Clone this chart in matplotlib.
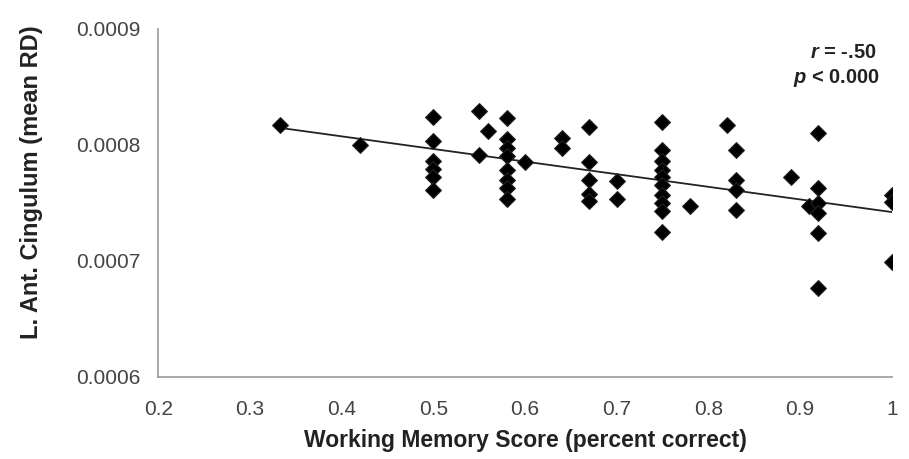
import numpy as np
import matplotlib
matplotlib.use("Agg")
import matplotlib.pyplot as plt

plt.rcParams['font.family'] = ['Liberation Sans', 'DejaVu Sans']
plt.rcParams['mathtext.fontset'] = 'custom'
plt.rcParams['mathtext.it'] = 'Liberation Sans:italic:bold'
plt.rcParams['mathtext.rm'] = 'Liberation Sans:bold'

# working memory score (x) and mean RD (y)
wm_score = [0.333, 0.42,
            0.5, 0.5, 0.5, 0.5, 0.5, 0.5,
            0.55, 0.55, 0.56,
            0.58, 0.58, 0.58, 0.58, 0.58, 0.58, 0.58, 0.58,
            0.6, 0.64, 0.64,
            0.67, 0.67, 0.67, 0.67, 0.67,
            0.7, 0.7,
            0.75, 0.75, 0.75, 0.75, 0.75, 0.75, 0.75, 0.75, 0.75, 0.75,
            0.78, 0.82,
            0.83, 0.83, 0.83, 0.83,
            0.89, 0.91,
            0.92, 0.92, 0.92, 0.92, 0.92, 0.92,
            1.0, 1.0, 1.0]
mean_rd = [0.000817, 0.000800,
           0.000824, 0.000803, 0.000786, 0.000779, 0.000772, 0.000761,
           0.000829, 0.000791, 0.000812,
           0.000823, 0.000805, 0.000797, 0.000790, 0.000778, 0.000770, 0.000763, 0.000753,
           0.000785, 0.000806, 0.000797,
           0.000815, 0.000785, 0.000770, 0.000758, 0.000752,
           0.000769, 0.000753,
           0.000820, 0.000796, 0.000786, 0.000778, 0.000772, 0.000765, 0.000757, 0.000750, 0.000743, 0.000725,
           0.000747, 0.000817,
           0.000796, 0.000770, 0.000761, 0.000744,
           0.000772, 0.000747,
           0.000810, 0.000763, 0.000750, 0.000741, 0.000724, 0.000677,
           0.000757, 0.000751, 0.000699]

x_ticks = [0.2, 0.3, 0.4, 0.5, 0.6, 0.7, 0.8, 0.9, 1.0]
x_labels = ['0.2', '0.3', '0.4', '0.5', '0.6', '0.7', '0.8', '0.9', '1']
y_ticks = [0.0006, 0.0007, 0.0008, 0.0009]
y_labels = ['0.0006', '0.0007', '0.0008', '0.0009']

x = np.array(wm_score)
y = np.array(mean_rd)

fig = plt.figure(figsize=(9.09, 4.59), dpi=100)
ax = fig.add_axes([0.174, 0.179, 0.807, 0.758])

ax.scatter(x, y, marker='D', s=65, color='black', edgecolors='#222222',
           linewidths=0.8, zorder=3)

# linear trend line
slope, icept = np.polyfit(x, y, 1)
xs = np.array([x.min(), x.max()])
ax.plot(xs, slope * xs + icept, color='#222222', lw=1.3, zorder=2)

ax.set_xlim(0.2, 1.0)
ax.set_ylim(0.0006, 0.0009)
ax.set_xticks(x_ticks)
ax.set_xticklabels(x_labels)
ax.set_yticks(y_ticks)
ax.set_yticklabels(y_labels)
ax.tick_params(length=0, labelsize=15, colors='#444444')
ax.tick_params(axis='x', pad=17)
ax.tick_params(axis='y', pad=13)

for side in ['top', 'right']:
    ax.spines[side].set_visible(False)
for side in ['left', 'bottom']:
    ax.spines[side].set_color('#999999')
    ax.spines[side].set_linewidth(1.2)

ax.set_xlabel('Working Memory Score (percent correct)', fontsize=16.5,
              fontweight='bold', color='#222222', labelpad=7)
ax.set_ylabel('L. Ant. Cingulum (mean RD)', fontsize=17,
              fontweight='bold', color='#222222')
ax.yaxis.set_label_coords(-0.157, 0.56)

ax.text(0.947, 0.000880, r'$\mathit{r}$ = -.50', fontsize=14.5, fontweight='bold',
        ha='center', va='center', color='#222222')
ax.text(0.94, 0.000858, r'$\mathit{p}$ < 0.000', fontsize=14.5, fontweight='bold',
        ha='center', va='center', color='#222222')

fig.savefig('out.png', dpi=100)
